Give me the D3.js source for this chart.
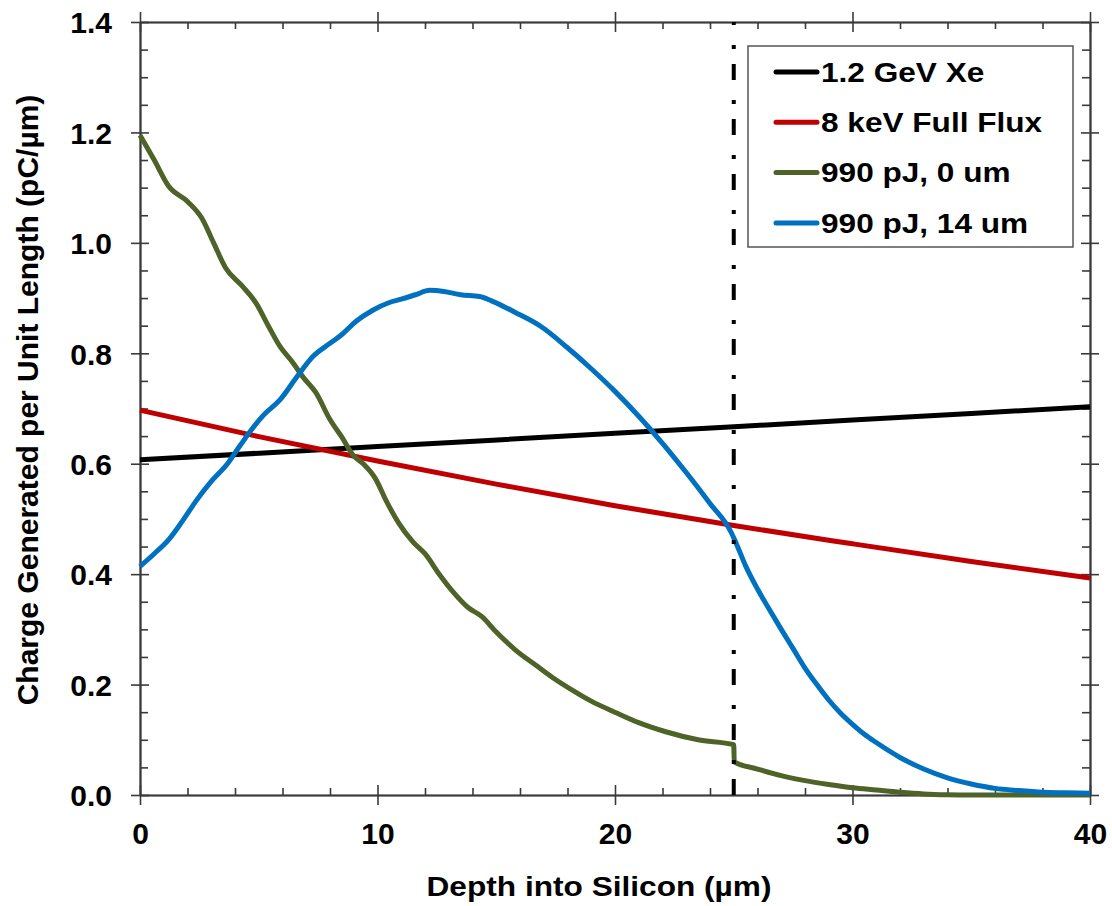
<!DOCTYPE html>
<html>
<head>
<meta charset="utf-8">
<script src="https://cdn.jsdelivr.net/npm/d3@7"></script>
<style>
  body { margin: 0; background: #fff; }
  text { font-family: "Liberation Sans", Arial, Helvetica, sans-serif; font-weight: bold; fill: #000; }
</style>
</head>
<body>
<script>
// chart size
const width = 1112;
const height = 906;
const plot = { left: 140, right: 1090, top: 22, bottom: 795 };

// series: 1.2 GeV Xe
const xeDepth = [0, 10, 20, 30, 40];
const xeCharge = [0.607, 0.631, 0.655, 0.679, 0.703];

// series: 8 keV Full Flux
const fluxDepth = [0, 5, 10, 15, 20, 25, 30, 35, 40];
const fluxCharge = [0.697, 0.649, 0.605, 0.563, 0.524, 0.488, 0.455, 0.423, 0.393];

// series: 990 pJ, 0 um
const pj0Depth = [0, 0.6, 1.2, 2.0, 2.6, 3.1, 3.6, 4.3, 4.9, 5.4, 5.9, 6.4, 6.9, 7.4, 8.0, 8.5,
    9.0, 9.4, 9.9, 10.4, 10.9, 11.5, 12.0, 12.6, 13.2, 13.8, 14.4, 15.0, 15.8, 16.7, 17.4,
    18.2, 19.0, 20.1, 21.0, 22.1, 23.5, 25.0, 25.02, 26.0, 27.0, 28.0, 29.0, 30.0, 31.0,
    32.0, 33.0, 34.0, 35.0, 40.0];
const pj0Charge = [1.195, 1.15, 1.103, 1.075, 1.045, 1.0, 0.955, 0.922, 0.89, 0.85, 0.812, 0.785,
    0.755, 0.729, 0.68, 0.648, 0.614, 0.60, 0.574, 0.53, 0.492, 0.458, 0.437, 0.40, 0.367,
    0.34, 0.323, 0.295, 0.263, 0.234, 0.212, 0.19, 0.17, 0.148, 0.131, 0.115, 0.1, 0.091,
    0.06, 0.047, 0.035, 0.026, 0.019, 0.013, 0.009, 0.005, 0.002, 0.0005, 0.0, 0.0];

// series: 990 pJ, 14 um
const pj14Depth = [0, 0.6, 1.2, 1.8, 2.4, 3.0, 3.7, 4.2, 4.7, 5.2, 5.9, 6.6, 7.3, 8.0, 8.5, 9.1,
    9.8, 10.5, 11.0, 11.6, 12.2, 12.8, 13.5, 14.3, 14.8, 15.8, 16.9, 18.0, 19.0, 20.0, 21.0,
    22.0, 23.0, 24.0, 24.9, 25.1, 25.5, 26.0, 26.5, 27.0, 27.5, 28.0, 28.5, 29.0, 29.5, 30.0,
    30.5, 31.0, 32.0, 33.0, 34.0, 35.0, 36.0, 37.0, 38.0, 39.0, 40.0];
const pj14Charge = [0.414, 0.437, 0.462, 0.497, 0.535, 0.568, 0.601, 0.632, 0.662, 0.688, 0.716,
    0.757, 0.795, 0.818, 0.834, 0.858, 0.878, 0.892, 0.898, 0.906, 0.914, 0.912, 0.906, 0.903,
    0.895, 0.874, 0.848, 0.81, 0.772, 0.731, 0.686, 0.637, 0.584, 0.528, 0.475, 0.456, 0.415,
    0.373, 0.336, 0.3, 0.265, 0.23, 0.2, 0.172, 0.148, 0.128, 0.11, 0.095, 0.068, 0.047, 0.031,
    0.02, 0.012, 0.008, 0.005, 0.004, 0.003];

const seriesNames = ["1.2 GeV Xe", "8 keV Full Flux", "990 pJ, 0 um", "990 pJ, 14 um"];
const seriesColors = ["#000000", "#C00000", "#4F6228", "#0070C0"];

// boundary marker (dash-dot) depth
const boundaryDepth = 25;

// tick values
const xMajor = [0, 10, 20, 30, 40];
const xMinor = [2, 4, 6, 8, 12, 14, 16, 18, 22, 24, 26, 28, 32, 34, 36, 38];
const yMajor = [0, 0.2, 0.4, 0.6, 0.8, 1.0, 1.2, 1.4];
const yMinor = [0.05, 0.1, 0.15, 0.25, 0.3, 0.35, 0.45, 0.5, 0.55, 0.65, 0.7, 0.75, 0.85, 0.9, 0.95,
    1.05, 1.1, 1.15, 1.25, 1.3, 1.35];

const svg = d3.select("body").append("svg")
    .attr("width", width)
    .attr("height", height);

// scales
const x = d3.scaleLinear().domain([0, 40]).range([plot.left, plot.right]);
const y = d3.scaleLinear().domain([0, 1.4]).range([plot.bottom, plot.top]);

const axisColor = "#3a3a3a";

function styleAxis(g) {
    g.selectAll(".domain").attr("stroke", axisColor).attr("stroke-width", 1.6);
    g.selectAll(".tick line").attr("stroke", axisColor).attr("stroke-width", 1.6);
}

// bottom axis with labels
const axisB = svg.append("g").attr("transform", `translate(0,${plot.bottom})`);
axisB.append("g")
    .call(d3.axisBottom(x).tickValues(xMajor).tickSize(10).tickSizeOuter(0).tickPadding(18))
    .call(styleAxis)
    .call(g => g.selectAll("text").style("font-size", "30px").attr("fill", "#000"));
axisB.append("g").call(d3.axisBottom(x).tickValues(xMajor).tickSize(-10).tickFormat("").tickSizeOuter(0)).call(styleAxis);
axisB.append("g").call(d3.axisBottom(x).tickValues(xMinor).tickSize(-7).tickFormat("").tickSizeOuter(0)).call(styleAxis);

// top axis
const axisT = svg.append("g").attr("transform", `translate(0,${plot.top})`);
axisT.append("g").call(d3.axisTop(x).tickValues(xMajor).tickSize(10).tickFormat("").tickSizeOuter(0)).call(styleAxis);
axisT.append("g").call(d3.axisTop(x).tickValues(xMajor).tickSize(-10).tickFormat("").tickSizeOuter(0)).call(styleAxis);
axisT.append("g").call(d3.axisTop(x).tickValues(xMinor).tickSize(-7).tickFormat("").tickSizeOuter(0)).call(styleAxis);

// left axis with labels
const axisL = svg.append("g").attr("transform", `translate(${plot.left},0)`);
axisL.append("g")
    .call(d3.axisLeft(y).tickValues(yMajor).tickSize(9).tickSizeOuter(0).tickPadding(19).tickFormat(d3.format(".1f")))
    .call(styleAxis)
    .call(g => g.selectAll("text").style("font-size", "30px").attr("fill", "#000").attr("dy", "0.36em"));
axisL.append("g").call(d3.axisLeft(y).tickValues(yMajor).tickSize(-9).tickFormat("").tickSizeOuter(0)).call(styleAxis);
axisL.append("g").call(d3.axisLeft(y).tickValues(yMinor).tickSize(-8).tickFormat("").tickSizeOuter(0)).call(styleAxis);

// right axis
const axisR = svg.append("g").attr("transform", `translate(${plot.right},0)`);
axisR.append("g").call(d3.axisRight(y).tickValues(yMajor).tickSize(9).tickFormat("").tickSizeOuter(0)).call(styleAxis);
axisR.append("g").call(d3.axisRight(y).tickValues(yMajor).tickSize(-9).tickFormat("").tickSizeOuter(0)).call(styleAxis);
axisR.append("g").call(d3.axisRight(y).tickValues(yMinor).tickSize(-8).tickFormat("").tickSizeOuter(0)).call(styleAxis);

// lines
const line = d3.line()
    .x(d => x(d[0]))
    .y(d => y(d[1]))
    .curve(d3.curveMonotoneX);

const seriesData = [
    d3.zip(xeDepth, xeCharge),
    d3.zip(fluxDepth, fluxCharge),
    d3.zip(pj0Depth, pj0Charge),
    d3.zip(pj14Depth, pj14Charge)
];

svg.append("g")
    .selectAll("path")
    .data(seriesData)
    .join("path")
    .attr("d", line)
    .attr("fill", "none")
    .attr("stroke", (d, i) => seriesColors[i])
    .attr("stroke-width", 5)
    .attr("stroke-linejoin", "round");

// dash-dot boundary at 25 um
svg.append("line")
    .attr("x1", x(boundaryDepth))
    .attr("x2", x(boundaryDepth))
    .attr("y1", y(0))
    .attr("y2", y(1.4))
    .attr("stroke", "#000")
    .attr("stroke-width", 4)
    .attr("stroke-dasharray", "16,15,4,20");

// legend
const legend = svg.append("g");
legend.append("rect")
    .attr("x", 748)
    .attr("y", 46)
    .attr("width", 325)
    .attr("height", 201)
    .attr("fill", "#fff")
    .attr("stroke", "#555")
    .attr("stroke-width", 1.5);

const legendRows = legend.selectAll("g.row")
    .data(seriesNames)
    .join("g")
    .attr("class", "row")
    .attr("transform", (d, i) => `translate(776,${72 + i * 50.3})`);

legendRows.append("line")
    .attr("x1", 0)
    .attr("x2", 41)
    .attr("stroke", (d, i) => seriesColors[i])
    .attr("stroke-width", 5)
    .attr("stroke-linecap", "round");

legendRows.append("text")
    .attr("transform", "translate(45,0) scale(1.17,1)")
    .attr("dy", "0.36em")
    .style("font-size", "27px")
    .text(d => d);

// axis titles
svg.append("text")
    .attr("transform", "translate(599,896) scale(1.13,1)")
    .attr("text-anchor", "middle")
    .style("font-size", "28px")
    .text("Depth into Silicon (µm)");

svg.append("text")
    .attr("transform", "translate(38,400) rotate(-90)")
    .attr("text-anchor", "middle")
    .style("font-size", "30px")
    .text("Charge Generated per Unit Length (pC/µm)");
</script>
</body>
</html>
